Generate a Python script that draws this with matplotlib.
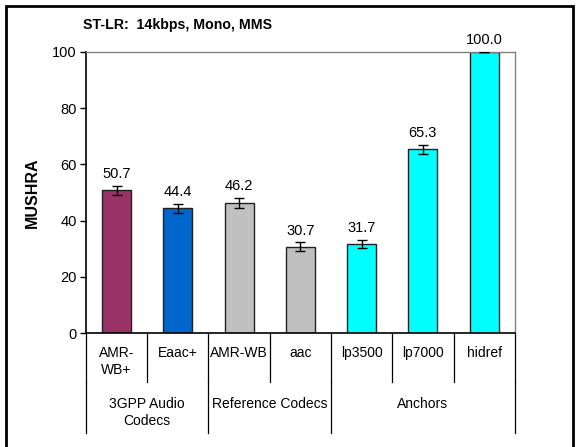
"""Grafico de barras MUSHRA com rotulos agrupados no eixo x."""

import matplotlib
matplotlib.use("Agg")
import matplotlib.pyplot as plt
from matplotlib.patches import Rectangle
import numpy as np

plt.rcParams.update({
    "font.family": ["Liberation Sans", "DejaVu Sans"],
    "font.size": 10,
})

# dados
categories = ["AMR-\nWB+", "Eaac+", "AMR-WB", "aac", "lp3500", "lp7000", "hidref"]
scores = [50.7, 44.4, 46.2, 30.7, 31.7, 65.3, 100.0]
errors = [1.6, 1.6, 1.7, 1.5, 1.5, 1.5, 0.0]
groups = ["3GPP Audio\nCodecs", "Reference Codecs", "Anchors"]
group_sizes = [2, 2, 3]
colors = ["#993366", "#0066CC", "#C0C0C0", "#C0C0C0", "#00FFFF", "#00FFFF", "#00FFFF"]

fig = plt.figure(figsize=(5.81, 4.47), dpi=100)
ax = fig.add_axes([0.148, 0.255, 0.738, 0.629])

x = np.arange(len(categories))
ax.bar(x, scores, width=0.47, color=colors, edgecolor="#222222", linewidth=1.0, zorder=2)
ax.errorbar(x, scores, yerr=errors, fmt="none", ecolor="black", elinewidth=1.0,
            capsize=3.5, capthick=1.0, zorder=3)

for xi, v, e in zip(x, scores, errors):
    ax.annotate(f"{v:.1f}", xy=(xi, v + e), xytext=(0, 3.5), textcoords="offset points",
                ha="center", va="bottom", fontsize=10.5, annotation_clip=False)

ax.set_xlim(-0.5, len(categories) - 0.5)
ax.set_ylim(0, 100)
ax.set_yticks(range(0, 101, 20))
ax.set_xticks([])
ax.tick_params(axis="y", length=4, width=1, pad=2.5, labelsize=10.5)
ax.set_ylabel("MUSHRA", fontsize=11.5, fontweight="bold", labelpad=9)

ax.spines["left"].set_linewidth(1.2)
ax.spines["bottom"].set_linewidth(1.2)
for s in ("top", "right"):
    ax.spines[s].set_color("#808080")
    ax.spines[s].set_linewidth(1.0)

# rotulos de categoria e separadores
trans = ax.get_xaxis_transform()
cat_bottom = -0.174
grp_bottom = -0.356
for xi, lab in zip(x, categories):
    ax.text(xi, -0.045, lab, transform=trans, ha="center", va="top",
            fontsize=10, linespacing=1.3)
for b in np.arange(len(categories) + 1) - 0.5:
    ax.plot([b, b], [0, cat_bottom], transform=trans, color="black", lw=0.9, clip_on=False)

edges = np.concatenate([[0], np.cumsum(group_sizes)]) - 0.5
for i, g in enumerate(groups):
    mid = (edges[i] + edges[i + 1]) / 2
    ax.text(mid, -0.226, g, transform=trans, ha="center", va="top",
            fontsize=10, linespacing=1.3)
for b in edges:
    ax.plot([b, b], [cat_bottom, grp_bottom], transform=trans, color="black", lw=0.9,
            clip_on=False)

fig.text(0.143, 0.944, "ST-LR:  14kbps, Mono, MMS", fontsize=10.2, fontweight="bold",
         ha="left", va="center")

# moldura da figura
fig.patches.append(Rectangle((0.010, -0.1), 0.977, 1.087, transform=fig.transFigure,
                             fill=False, edgecolor="black", linewidth=2.0))

fig.savefig("out.png", dpi=100)
